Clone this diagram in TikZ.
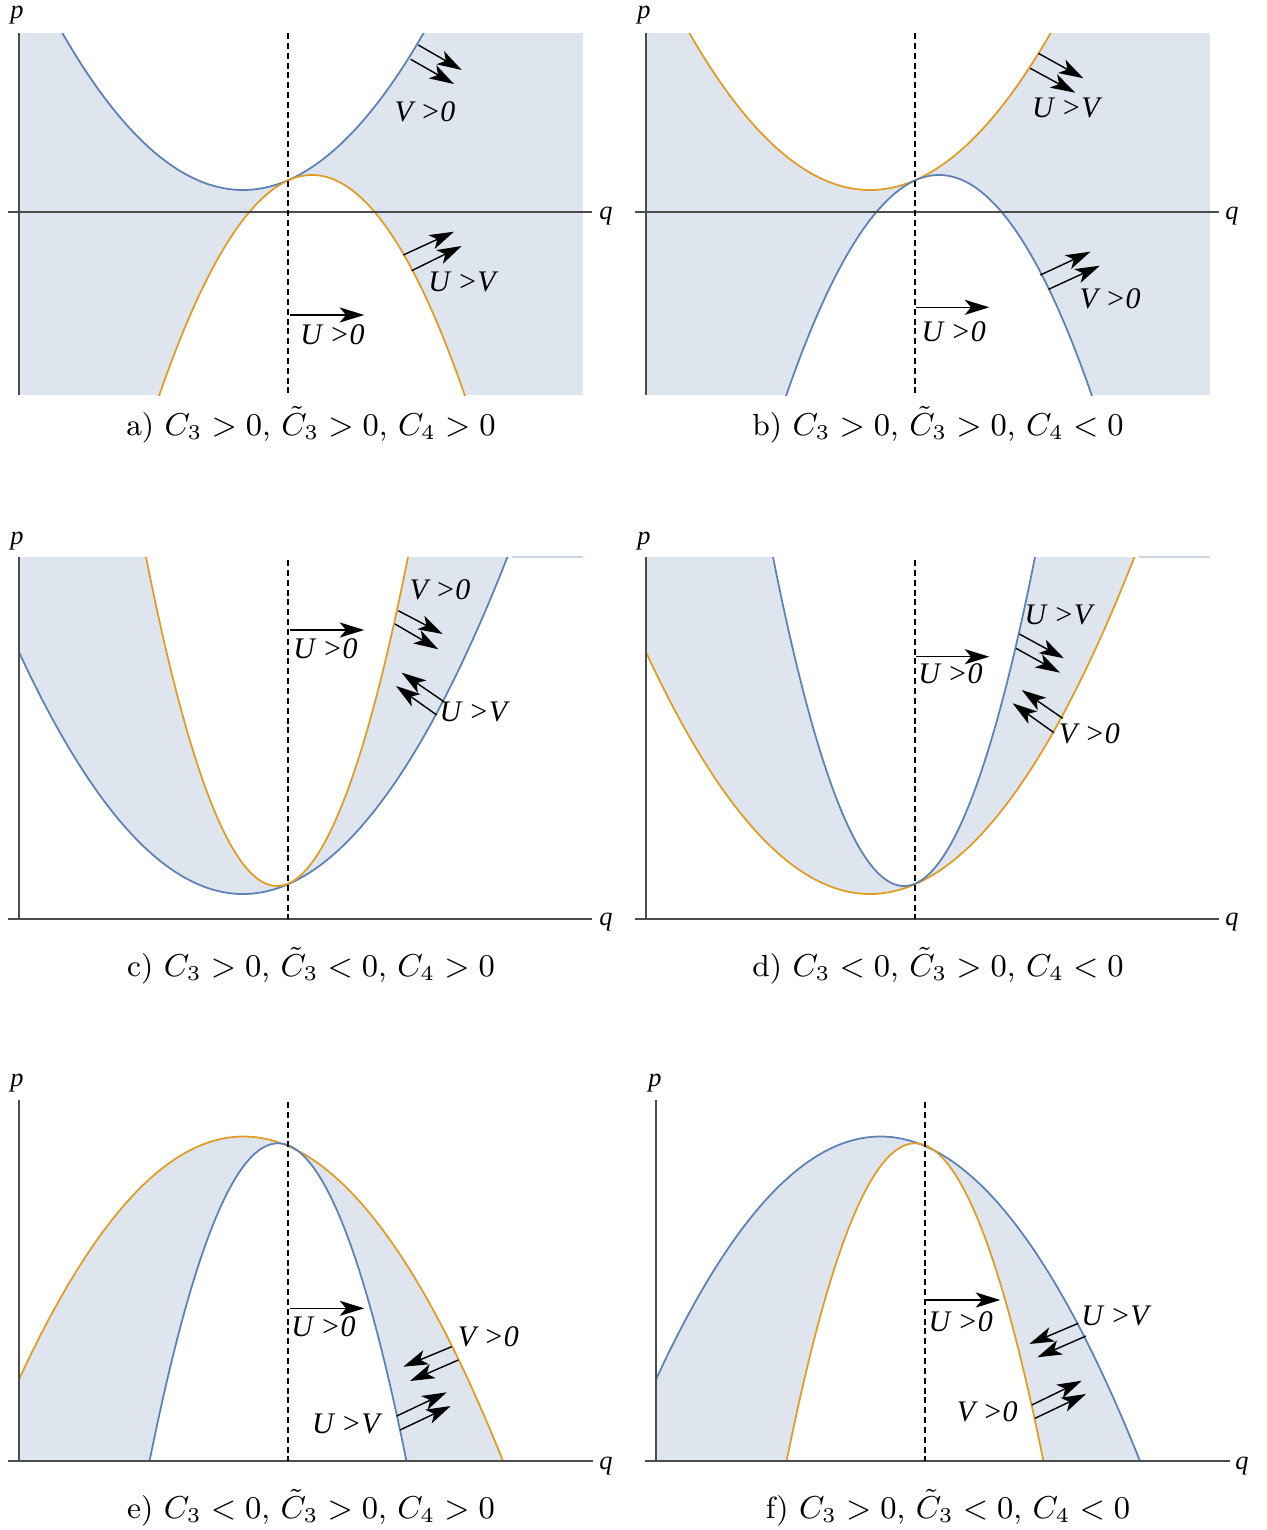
\documentclass[tikz,border=0pt]{standalone}
\usepackage{fontspec}
\usetikzlibrary{arrows.meta}
\newfontfamily\lblfont{Liberation Serif}
\definecolor{mblue}{rgb}{0.368417,0.506779,0.709798}
\definecolor{morange}{rgb}{0.880722,0.611041,0.142051}
\definecolor{mfill}{RGB}{223,229,239}
\begin{document}
\begin{tikzpicture}[x=0.01cm,y=-0.01cm,samples=150,
  curve/.style={line width=0.5pt},
  axis/.style={black!70,line width=0.45pt},
  mid/.style={black,line width=0.6pt,dash pattern=on 1.7pt off 1.1pt},
  arr/.style={line width=0.4pt,-{Stealth[length=7pt,width=4.3pt,inset=1.8pt]}},
  lbl/.style={font=\lblfont\itshape\fontsize{8.5}{10}\selectfont,inner sep=0pt},
  axlbl/.style={font=\lblfont\itshape\fontsize{7.5}{9}\selectfont,inner sep=0pt},
  captxt/.style={font=\fontsize{8.7}{10.5}\selectfont,inner sep=0pt}]
\useasboundingbox (0,0) rectangle (1267,1530);

% a) and b)
\foreach \dx/\up/\dn in {0/mblue/morange,627/morange/mblue} {
\begin{scope}[shift={(\dx,0)}]
\begin{scope}
\clip (19,33) rectangle (583,395);
\fill[mfill] (19,33) rectangle (583,395);
\fill[white] plot[domain=50:440] (\x,{190-48.1*((\x-243)/100)^2}) -- cycle;
\fill[white] plot[domain=150:475] (\x,{175+94.4*((\x-312)/100)^2}) -- cycle;
\draw[curve,draw=\up] plot[domain=50:440] (\x,{190-48.1*((\x-243)/100)^2});
\draw[curve,draw=\dn] plot[domain=150:475] (\x,{175+94.4*((\x-312)/100)^2});
\end{scope}
\draw[axis] (19,33) -- (19,395);
\draw[axis] (8,212) -- (592,212);
\draw[mid] (288,33) -- (288,395);
\end{scope}
}

% c) and d)
\foreach \dx/\wide/\narrow in {0/mblue/morange,627/morange/mblue} {
\begin{scope}[shift={(\dx,0)}]
\begin{scope}
\clip (19,557) rectangle (583,919);
\fill[mfill] plot[domain=0:520] (\x,{894-48.2*((\x-243)/100)^2}) -- (520,500) -- (0,500) -- cycle;
\fill[white] plot[domain=130:425] (\x,{886-191.7*((\x-277)/100)^2}) -- cycle;
\draw[curve,draw=\wide] plot[domain=0:520] (\x,{894-48.2*((\x-243)/100)^2});
\draw[curve,draw=\narrow] plot[domain=130:425] (\x,{886-191.7*((\x-277)/100)^2});
\end{scope}
\draw[mfill!85!mblue,line width=0.3pt] (512,557) -- (583,557);
\draw[axis] (19,557) -- (19,919);
\draw[axis] (8,919) -- (592,919);
\draw[mid] (288,560) -- (288,919);
\end{scope}
}

% e) and f)
\foreach \dx/\wide/\narrow in {0/morange/mblue,637/mblue/morange} {
\begin{scope}[shift={(\dx,0)}]
\begin{scope}
\clip (19,1100) rectangle (583,1461);
\fill[mfill] plot[domain=0:520] (\x,{1136.5+48.2*((\x-243.5)/100)^2}) -- (520,1480) -- (0,1480) -- cycle;
\fill[white] plot[domain=130:430] (\x,{1143.3+192.6*((\x-278)/100)^2}) -- cycle;
\draw[curve,draw=\wide] plot[domain=0:520] (\x,{1136.5+48.2*((\x-243.5)/100)^2});
\draw[curve,draw=\narrow] plot[domain=130:430] (\x,{1143.3+192.6*((\x-278)/100)^2});
\end{scope}
\draw[axis] (19,1100) -- (19,1461);
\draw[axis] (8,1461) -- (593,1461);
\draw[mid] (288,1102) -- (288,1461);
\end{scope}
}

\node[axlbl] (pa) at (17,15) {p};
\node[axlbl] (qa) at (606,216) {q};
\node[axlbl] (pb) at (644,15) {p};
\node[axlbl] (qb) at (1232,216) {q};
\node[axlbl] (pc) at (17,541) {p};
\node[axlbl] (qc) at (606,922) {q};
\node[axlbl] (pd) at (644,541) {p};
\node[axlbl] (qd) at (1232,922) {q};
\node[axlbl] (pe) at (17,1083) {p};
\node[axlbl] (qe) at (606,1466) {q};
\node[axlbl] (pf) at (655,1083) {p};
\node[axlbl] (qf) at (1242,1466) {q};

\draw[arr] (418.3,45) -- (461.7,70);
\draw[arr] (410.7,59.3) -- (454,84);
\draw[arr] (403.3,255) -- (454,231.7);
\draw[arr] (411.7,270.7) -- (461.7,246);
\draw[arr] (289.8,315) -- (364.3,315);
\node[lbl] (va) at (425,111.7) {V >0};
\node[lbl] (uva) at (462,281.7) {U >V};
\node[lbl] (ua) at (332.4,335) {U >0};

\draw[arr] (1038.4,53.3) -- (1083.4,78.3);
\draw[arr] (1030.2,68.3) -- (1075.2,92.7);
\draw[arr] (1040.4,275) -- (1090.4,251.7);
\draw[arr] (1048.6,289.3) -- (1099.8,265.7);
\draw[arr] (915.6,307.3) -- (989.3,307.3);
\node[lbl] (uvb) at (1065.8,108.3) {U >V};
\node[lbl] (vb) at (1110,298.3) {V >0};
\node[lbl] (ub) at (953.6,331.7) {U >0};

\draw[arr] (398.3,610.7) -- (442.7,634);
\draw[arr] (395,624) -- (438.3,649.3);
\draw[arr] (444,701.7) -- (401.7,672.7);
\draw[arr] (436.7,715) -- (396,686);
\draw[arr] (289.8,630) -- (364.3,630);
\node[lbl] (vc) at (440,590) {V >0};
\node[lbl] (uvc) at (473.3,712) {U >V};
\node[lbl] (uc) at (325.4,648.3) {U >0};

\draw[arr] (1019.3,634) -- (1064,658.3);
\draw[arr] (1016,648.3) -- (1060,672.7);
\draw[arr] (1062.7,718.3) -- (1021.7,690);
\draw[arr] (1054,732.7) -- (1012.7,703.3);
\draw[arr] (915.6,656.7) -- (989.3,656.7);
\node[lbl] (uvd) at (1058.3,615) {U >V};
\node[lbl] (vd) at (1089.3,733.3) {V >0};
\node[lbl] (ud) at (950.4,674) {U >0};

\draw[arr] (451.7,1346.7) -- (403.3,1366.7);
\draw[arr] (458.3,1360) -- (410,1381);
\draw[arr] (396.7,1416) -- (446.7,1392.3);
\draw[arr] (400,1430) -- (450.7,1406);
\draw[arr] (289.8,1308.3) -- (364.3,1308.3);
\node[lbl] (ve) at (488.3,1336.7) {V >0};
\node[lbl] (uve) at (345.9,1424) {U >V};
\node[lbl] (ue) at (323.4,1326.7) {U >0};

\draw[arr] (1078.3,1323.3) -- (1029.3,1344);
\draw[arr] (1086,1336) -- (1037.3,1357.3);
\draw[arr] (1031.7,1405) -- (1081.7,1380.7);
\draw[arr] (1035,1418.3) -- (1086,1394);
\draw[arr] (925.8,1300) -- (1000.3,1300);
\node[lbl] (uvf) at (1115,1316) {U >V};
\node[lbl] (vf) at (987.2,1411.7) {V >0};
\node[lbl] (uf) at (960.6,1321.7) {U >0};

\node[captxt] (capa) at (311,425) {a) $C_3>0$, $\tilde{C}_3>0$, $C_4>0$};
\node[captxt] (capb) at (938,425) {b) $C_3>0$, $\tilde{C}_3>0$, $C_4<0$};
\node[captxt] (capc) at (311,966) {c) $C_3>0$, $\tilde{C}_3<0$, $C_4>0$};
\node[captxt] (capd) at (938,966) {d) $C_3<0$, $\tilde{C}_3>0$, $C_4<0$};
\node[captxt] (cape) at (311,1508) {e) $C_3<0$, $\tilde{C}_3>0$, $C_4>0$};
\node[captxt] (capf) at (948,1508) {f) $C_3>0$, $\tilde{C}_3<0$, $C_4<0$};
\end{tikzpicture}
\end{document}
